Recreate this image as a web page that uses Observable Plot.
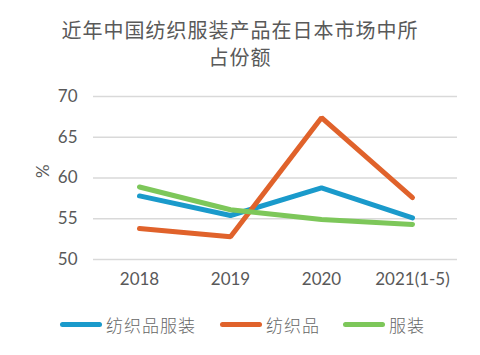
<!DOCTYPE html>
<html>
<head>
<meta charset="utf-8">
<script src="https://cdn.jsdelivr.net/npm/d3@7"></script>
<script src="https://cdn.jsdelivr.net/npm/@observablehq/plot@0.6"></script>
<style>
  html, body { margin: 0; padding: 0; background: #fff; width: 480px; height: 355px; overflow: hidden; }
  #title { height: 75px; box-sizing: border-box; padding-top: 16px; text-align: center; color: #595959;
           font-family: "Noto Sans CJK SC", sans-serif; font-size: 20px; line-height: 27px; letter-spacing: 1px; }
  #chart svg { display: block; }
  #legend { position: relative; height: 55px; font-family: "Noto Sans CJK SC", sans-serif; font-size: 17px; font-weight: 300; color: #666; }
  .item { position: absolute; top: 12px; display: flex; align-items: center; letter-spacing: 1px; }
  .sw { width: 42px; height: 5px; border-radius: 3px; margin-right: 4px; }
</style>
</head>
<body>
<div id="title">近年中国纺织服装产品在日本市场中所<br>占份额</div>
<div id="chart"></div>
<div id="legend"></div>
<script>
const years = ["2018", "2019", "2020", "2021(1-5)"];
const seriesNames = ["纺织品服装", "纺织品", "服装"];
const textileApparel = [57.8, 55.4, 58.8, 55.1];
const textiles = [53.8, 52.8, 67.4, 57.6];
const apparel = [58.9, 56.1, 54.9, 54.3];
const yTicks = [50, 55, 60, 65, 70];
const colors = ["#1a9acb", "#e0622b", "#7dc75a"];

const seriesValues = [textileApparel, textiles, apparel];
const data = [];
seriesNames.forEach((name, i) => {
  years.forEach((y, j) => data.push({series: name, year: y, value: seriesValues[i][j]}));
});

const chart = Plot.plot({
  width: 480,
  height: 225,
  marginTop: 21,
  marginBottom: 41,
  marginLeft: 93,
  marginRight: 23,
  style: {fontFamily: "Lato, sans-serif", fontSize: "17px", color: "#595959", background: "#fff"},
  x: {type: "point", domain: years, padding: 0.5, label: null, tickSize: 0, tickPadding: 14},
  y: {domain: [50, 70], ticks: yTicks, label: null, tickSize: 0, tickPadding: 16},
  color: {domain: seriesNames, range: colors},
  marks: [
    Plot.ruleY(yTicks, {stroke: "#d9d9d9", strokeWidth: 1.5}),
    Plot.axisY({ticks: yTicks, tickSize: 0, tickPadding: 16, label: null, fontSize: 17, fill: "#595959"}),
    Plot.axisX({tickSize: 0, tickPadding: 13, label: null, fontSize: 17, fill: "#595959"}),
    Plot.line(data, {x: "year", y: "value", z: "series", stroke: "series", strokeWidth: 5, strokeLinejoin: "miter", strokeLinecap: "round"}),
    Plot.text(["%"], {frameAnchor: "left", dx: -50, rotate: -90, fontSize: 17, fill: "#595959", y: 60})
  ]
});
document.getElementById("chart").appendChild(chart);

const legend = document.getElementById("legend");
const lefts = [60, 220, 343];
seriesNames.forEach((name, i) => {
  const it = document.createElement("div");
  it.className = "item";
  it.style.left = lefts[i] + "px";
  const sw = document.createElement("div");
  sw.className = "sw";
  sw.style.background = colors[i];
  const t = document.createElement("span");
  t.textContent = name;
  it.appendChild(sw);
  it.appendChild(t);
  legend.appendChild(it);
});
</script>
</body>
</html>
